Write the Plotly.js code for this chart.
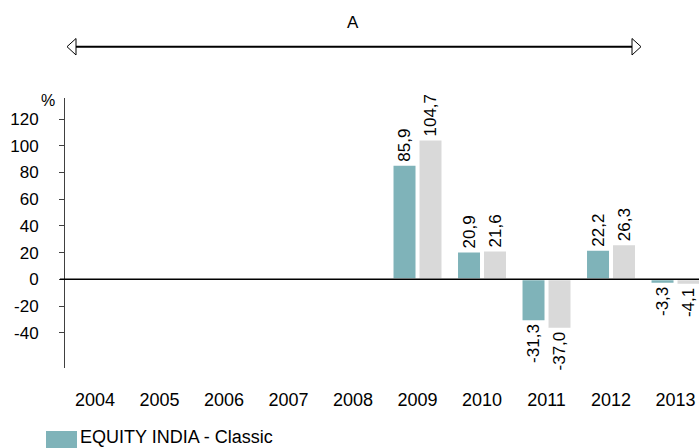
<!DOCTYPE html>
<html>
<head>
<meta charset="utf-8">
<script src="https://cdn.plot.ly/plotly-3.0.1.min.js"></script>
<style>html,body{margin:0;padding:0;background:#fff;}#chart{width:699px;height:448px;}</style>
</head>
<body>
<div id="chart"></div>
<script>
// ---- data ----
var years = ['2004','2005','2006','2007','2008','2009','2010','2011','2012','2013'];
var classicValues = [null, null, null, null, null, 85.9, 20.9, -31.3, 22.2, -3.3];
var benchmarkValues = [null, null, null, null, null, 104.7, 21.6, -37.0, 26.3, -4.1];
var yTickValues = [-40, -20, 0, 20, 40, 60, 80, 100, 120];
var yTickLabels = ['-40', '-20', '0', '20', '40', '60', '80', '100', '120'];
var classicName = 'EQUITY INDIA - Classic';
var benchmarkName = 'Benchmark';
var periodLabel = 'A';
var unitLabel = '%';

// ---- layout helpers ----
var W = 699, H = 448, ML = 65, MR = 0, MT = 98, MB = 80;
var PW = W - ML - MR, PH = H - MT - MB;
function px(x) { return (x - ML) / PW; }
function py(y) { return (H - MB - y) / PH; }
function fmt(v) { return v === null ? '' : v.toFixed(1).replace('.', ','); }

var FONT = 'Liberation Sans, Arial, sans-serif';
var TEAL = '#7FB3B9';
var GREY = '#D9D9D9';

var traces = [
  {
    type: 'bar', name: classicName, x: years, y: classicValues,
    text: classicValues.map(fmt), textposition: 'outside', textangle: -90,
    constraintext: 'none', cliponaxis: false,
    textfont: {family: FONT, size: 17, color: '#000'},
    marker: {color: TEAL, line: {color: '#fff', width: 2}},
    showlegend: false, hoverinfo: 'x+y'
  },
  {
    type: 'bar', name: benchmarkName, x: years, y: benchmarkValues,
    text: benchmarkValues.map(fmt), textposition: 'outside', textangle: -90,
    constraintext: 'none', cliponaxis: false,
    textfont: {family: FONT, size: 17, color: '#000'},
    marker: {color: GREY, line: {color: '#fff', width: 2}},
    showlegend: false, hoverinfo: 'x+y'
  }
];

var layout = {
  width: W, height: H,
  margin: {l: ML, r: MR, t: MT, b: MB, pad: 0},
  paper_bgcolor: '#fff', plot_bgcolor: '#fff',
  font: {family: FONT, size: 17, color: '#000'},
  barmode: 'group', bargap: 0.194, bargroupgap: 0.077,
  showlegend: false,
  xaxis: {
    type: 'category', range: [-0.465, 9.364],
    showgrid: false, zeroline: false, showline: false,
    ticks: 'outside', ticklen: 0, tickcolor: 'rgba(0,0,0,0)',
    ticklabelstandoff: 15,
    tickfont: {family: FONT, size: 18, color: '#000'},
    fixedrange: true
  },
  yaxis: {
    range: [-66.4, 135.8],
    tickvals: yTickValues, ticktext: yTickLabels,
    showgrid: false, zeroline: false,
    showline: true, linecolor: '#404040', linewidth: 1,
    ticks: 'outside', ticklen: 5, tickcolor: '#404040', tickwidth: 1,
    ticklabelstandoff: 17,
    tickfont: {family: FONT, size: 17, color: '#000'},
    fixedrange: true
  },
  shapes: [
    // zero reference line
    {type: 'line', xref: 'paper', yref: 'y', x0: px(60), x1: 1.05, y0: 0, y1: 0,
     line: {color: '#000', width: 1.5}, layer: 'above'},
    // period arrow
    {type: 'line', xref: 'paper', yref: 'paper', x0: px(76), x1: px(632), y0: py(46.7), y1: py(46.7),
     line: {color: '#000', width: 2}},
    {type: 'path', xref: 'paper', yref: 'paper',
     path: 'M' + px(67) + ',' + py(46.7) + ' L' + px(76) + ',' + py(38.5) + ' L' + px(76) + ',' + py(55) + ' Z',
     fillcolor: '#fff', line: {color: '#000', width: 1}},
    {type: 'path', xref: 'paper', yref: 'paper',
     path: 'M' + px(641) + ',' + py(46.7) + ' L' + px(632) + ',' + py(38.5) + ' L' + px(632) + ',' + py(55) + ' Z',
     fillcolor: '#fff', line: {color: '#000', width: 1}},
    // legend swatch
    {type: 'rect', xref: 'paper', yref: 'paper', x0: px(46), x1: px(77), y0: py(431), y1: py(452),
     fillcolor: TEAL, line: {width: 0}}
  ],
  annotations: [
    {text: periodLabel, xref: 'paper', yref: 'paper', x: px(353), y: py(22), xanchor: 'center', yanchor: 'middle',
     showarrow: false, font: {family: FONT, size: 17, color: '#000'}},
    {text: unitLabel, xref: 'paper', yref: 'paper', x: px(48), y: py(100), xanchor: 'center', yanchor: 'middle',
     showarrow: false, font: {family: FONT, size: 16, color: '#000'}},
    {text: classicName, xref: 'paper', yref: 'paper', x: px(78), y: py(437), xanchor: 'left', yanchor: 'middle',
     showarrow: false, font: {family: FONT, size: 18, color: '#000'}}
  ]
};

Plotly.newPlot('chart', traces, layout, {displayModeBar: false, staticPlot: true});
</script>
</body>
</html>
